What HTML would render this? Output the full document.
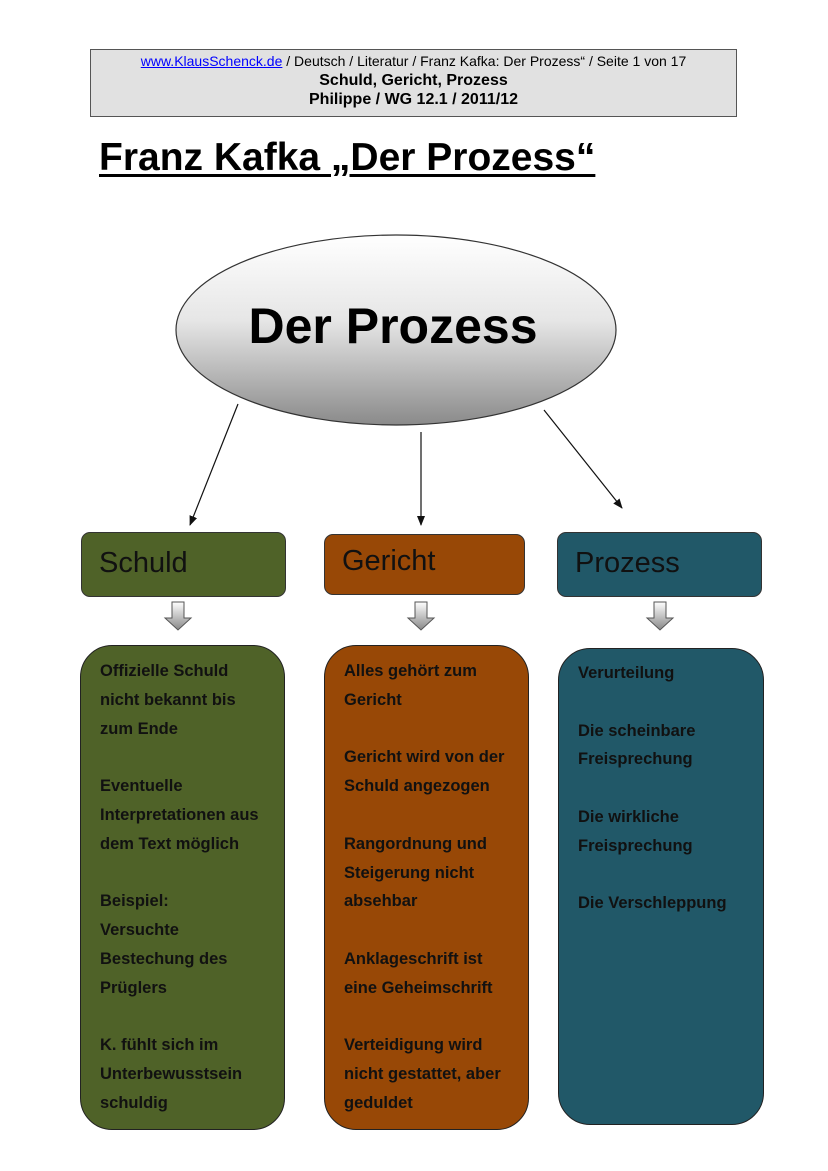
<!DOCTYPE html>
<html><head><meta charset="utf-8"><style>
body{margin:0;width:828px;height:1171px;background:#fff;position:relative;font-family:"Liberation Sans",Arial,sans-serif;overflow:hidden}
.a{position:absolute}
.hdr{left:90px;top:49px;width:645px;height:66px;background:#e1e1e1;border:1px solid #555;text-align:center}
.hdr div{line-height:19px}
.title{left:99px;top:136px;font-size:39px;font-weight:bold;text-decoration:underline;text-decoration-thickness:3px;text-underline-offset:4px}
.h{font-size:29px;color:#111;padding-left:17px;box-sizing:border-box;border:1px solid #333;border-radius:9px}
.b{border:1.5px solid #222;border-radius:32px;box-sizing:border-box;padding:11px 0 0 19px;font-size:16.5px;font-weight:bold;line-height:28.8px;color:#111;white-space:nowrap}
</style></head><body>
<div class="a hdr"><div style="margin-top:2px;font-size:14px"><span style="color:#00f;text-decoration:underline">www.KlausSchenck.de</span> / Deutsch / Literatur / Franz Kafka: Der Prozess“ / Seite 1 von 17</div><div style="font-size:16px;font-weight:bold">Schuld, Gericht, Prozess</div><div style="font-size:16px;font-weight:bold">Philippe / WG 12.1 / 2011/12</div></div>
<div class="a title">Franz Kafka „Der Prozess“</div>
<svg class="a" style="left:0;top:0" width="828" height="1171">
<defs><linearGradient id="g" x1="0" y1="0" x2="0" y2="1"><stop offset="0" stop-color="#fff"/><stop offset="0.45" stop-color="#e6e6e6"/><stop offset="1" stop-color="#8a8a8a"/></linearGradient>
<linearGradient id="ga" x1="0" y1="0" x2="0" y2="1"><stop offset="0" stop-color="#fff"/><stop offset="1" stop-color="#888"/></linearGradient>
<marker id="m" markerWidth="10" markerHeight="10" refX="9" refY="5" orient="auto" markerUnits="userSpaceOnUse"><path d="M0,1 L10,5 L0,9 Z" fill="#111"/></marker></defs>
<ellipse cx="396" cy="330" rx="220" ry="95" fill="url(#g)" stroke="#333" stroke-width="1.2"/>
<text x="393" y="343" font-size="50" font-weight="bold" text-anchor="middle" font-family="Liberation Sans,sans-serif">Der Prozess</text>
<line x1="238" y1="404" x2="190" y2="525" stroke="#111" stroke-width="1.2" marker-end="url(#m)"/>
<line x1="421" y1="432" x2="421" y2="525" stroke="#111" stroke-width="1.2" marker-end="url(#m)"/>
<line x1="544" y1="410" x2="622" y2="508" stroke="#111" stroke-width="1.2" marker-end="url(#m)"/>
<g stroke="#555" stroke-width="1" fill="url(#ga)">
<path d="M172,602 h12 v16 h7 l-13,12 l-13,-12 h7 z"/>
<path d="M415,602 h12 v16 h7 l-13,12 l-13,-12 h7 z"/>
<path d="M654,602 h12 v16 h7 l-13,12 l-13,-12 h7 z"/>
</g>
</svg>
<div class="a h" style="left:81px;top:532px;width:205px;height:65px;line-height:60px;background:#4f6228">Schuld</div>
<div class="a h" style="left:324px;top:534px;width:201px;height:61px;line-height:52px;background:#984806">Gericht</div>
<div class="a h" style="left:557px;top:532px;width:205px;height:65px;line-height:60px;background:#215868">Prozess</div>
<div class="a b" style="left:80px;top:645px;width:205px;height:485px;background:#4f6228">Offizielle Schuld<br>nicht bekannt bis<br>zum Ende<br><br>Eventuelle<br>Interpretationen aus<br>dem Text möglich<br><br>Beispiel:<br>Versuchte<br>Bestechung des<br>Prüglers<br><br>K. fühlt sich im<br>Unterbewusstsein<br>schuldig</div>
<div class="a b" style="left:324px;top:645px;width:205px;height:485px;background:#984806">Alles gehört zum<br>Gericht<br><br>Gericht wird von der<br>Schuld angezogen<br><br>Rangordnung und<br>Steigerung nicht<br>absehbar<br><br>Anklageschrift ist<br>eine Geheimschrift<br><br>Verteidigung wird<br>nicht gestattet, aber<br>geduldet</div>
<div class="a b" style="left:558px;top:648px;width:206px;height:477px;background:#215868;padding-top:10px">Verurteilung<br><br>Die scheinbare<br>Freisprechung<br><br>Die wirkliche<br>Freisprechung<br><br>Die Verschleppung</div>
</body></html>
